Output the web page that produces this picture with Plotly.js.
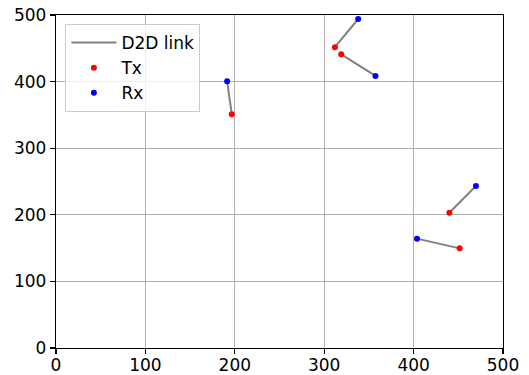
<!DOCTYPE html>
<html>
<head>
<meta charset="utf-8">
<script src="https://cdn.plot.ly/plotly-3.0.1.min.js"></script>
<style>html,body{margin:0;padding:0;background:#fff;}#chart{width:529px;height:375px;}</style>
</head>
<body>
<div id="chart"></div>
<script>
// Transmitter positions
const txX = [196.6, 312, 319, 440, 451.5];
const txY = [351, 451.6, 441, 203, 149.6];
// Receiver positions (paired with Tx by index)
const rxX = [191.4, 338, 357.4, 469.7, 403.8];
const rxY = [400.6, 494, 408.5, 243.2, 164.2];
const xTicks = [0, 100, 200, 300, 400, 500];
const yTicks = [0, 100, 200, 300, 400, 500];

const linkX = [], linkY = [];
for (let i = 0; i < txX.length; i++) {
  linkX.push(txX[i], rxX[i], null);
  linkY.push(txY[i], rxY[i], null);
}

const traces = [
  {x: linkX, y: linkY, mode: 'lines', name: 'D2D link',
   line: {color: '#808080', width: 2}, connectgaps: false, hoverinfo: 'skip'},
  {x: txX, y: txY, mode: 'markers', name: 'Tx',
   marker: {color: '#ff0000', size: 6}},
  {x: rxX, y: rxY, mode: 'markers', name: 'Rx',
   marker: {color: '#0000ff', size: 6}}
];

const axisCommon = {
  showline: true, linecolor: '#000', linewidth: 1.2, mirror: true,
  ticks: 'outside', ticklen: 5, tickwidth: 1.2, tickcolor: '#000',
  showgrid: true, gridcolor: '#b0b0b0', gridwidth: 1,
  zeroline: false, tickfont: {family: 'DejaVu Sans', size: 17, color: '#000'},
  tickmode: 'array', fixedrange: true
};

const layout = {
  width: 529, height: 375,
  margin: {l: 55.5, r: 25.5, t: 15, b: 26.5},
  paper_bgcolor: '#fff', plot_bgcolor: '#fff',
  xaxis: Object.assign({}, axisCommon, {range: [0, 500], tickvals: xTicks, ticktext: xTicks.map(String), ticklabelstandoff: -4}),
  yaxis: Object.assign({}, axisCommon, {range: [0, 500], tickvals: yTicks, ticktext: yTicks.map(String), ticklabelstandoff: 0}),
  showlegend: true,
  legend: {
    x: 0.021, y: 0.973, xanchor: 'left', yanchor: 'top',
    bgcolor: 'rgba(255,255,255,0.8)', bordercolor: '#cccccc', borderwidth: 1,
    font: {family: 'DejaVu Sans', size: 17, color: '#000'},
    itemwidth: 45, tracegroupgap: 0
  },
  font: {family: 'DejaVu Sans'}
};

Plotly.newPlot('chart', traces, layout, {displayModeBar: false, staticPlot: true});
</script>
</body>
</html>
